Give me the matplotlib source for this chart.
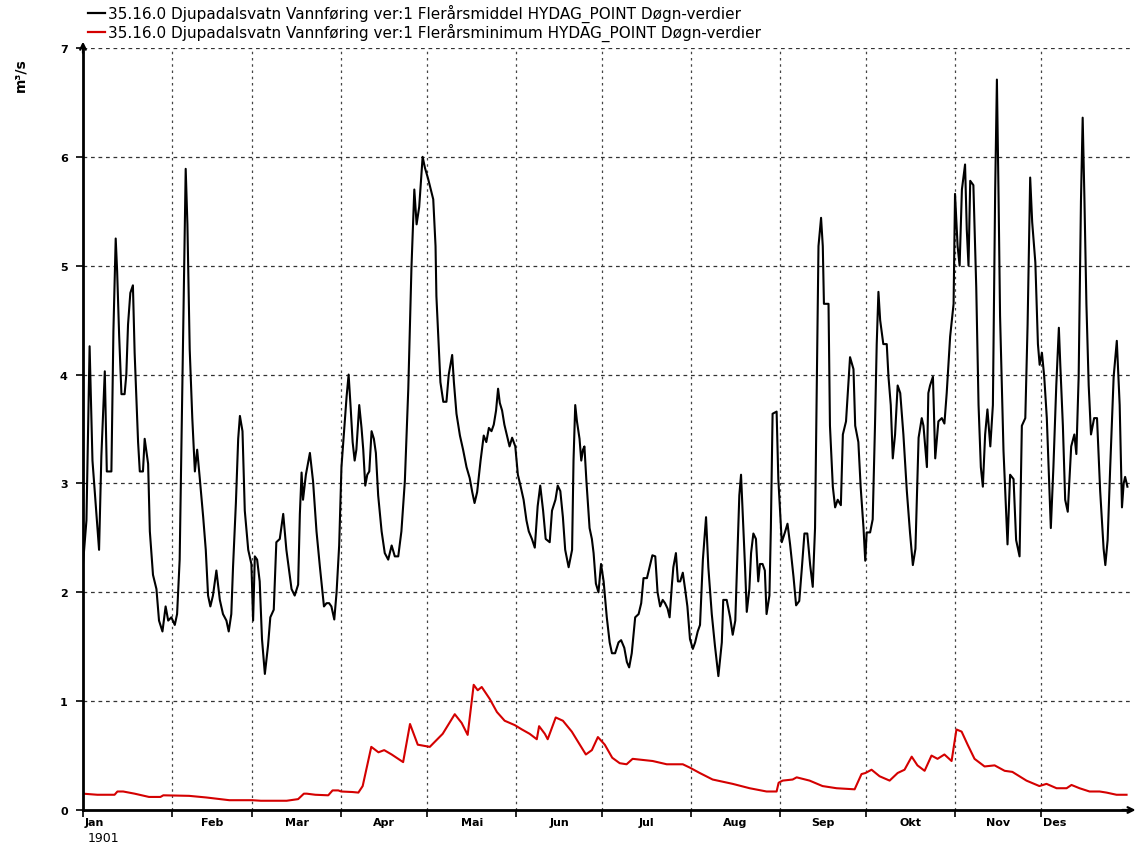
import matplotlib
matplotlib.use("Agg")
import matplotlib.pyplot as plt
from matplotlib.lines import Line2D

# Flerårsmiddel (daglig), dag i året -> m3/s
mean_days = [
    0, 1.2, 2.3, 3.3, 4.4, 5.6, 6.4, 7.6, 8.3, 9.9, 10.6, 11.4, 11.9, 12.6, 13.4, 14.5,
    15.1, 15.7, 16.5, 17.4, 18.0, 19.2, 19.8, 20.9, 21.5, 22.7, 23.3, 24.4, 25.6, 26.5,
    27.7, 28.8, 29.7, 30.8, 32.0, 32.8, 33.7, 34.3, 35.1, 35.8, 36.4, 37.2, 38.1, 39.0,
    39.8, 40.7, 41.9, 42.8, 43.6, 44.4, 45.3, 46.5, 47.7, 48.8, 50.0, 50.8, 51.7, 52.3,
    53.3, 54.1, 54.7, 55.6, 56.4, 57.6, 58.7, 59.3, 59.9, 60.7, 61.6, 62.4, 63.4, 64.5,
    65.3, 66.5, 67.4, 68.6, 69.8, 70.9, 72.7, 73.8, 75.0, 75.6, 76.2, 76.7, 77.7, 79.1,
    80.2, 81.4, 82.6, 84.0, 84.9, 85.8, 86.6, 87.6, 88.4, 89.3, 90.1, 90.9, 91.9, 92.6,
    93.3, 94.0, 94.7, 95.3, 96.3, 97.1, 97.7, 98.4, 99.1, 99.8, 100.6, 101.4, 102.1,
    102.9, 104.1, 105.2, 106.4, 107.6, 108.7, 109.9, 111.0, 112.2, 113.4, 114.5, 115.5,
    116.3, 117.2, 118.4, 119.2, 120.3, 122.1, 122.9, 123.2, 124.1, 124.6, 125.6, 126.7,
    127.5, 128.7, 129.3, 130.2, 131.4, 132.5, 133.7, 134.8, 135.7, 136.5, 137.4, 138.6,
    139.7, 140.6, 141.5, 142.4, 143.2, 144.0, 144.7, 145.3, 146.1, 146.9, 147.8, 148.7,
    149.6, 150.7, 151.6, 152.5, 153.6, 154.6, 155.4, 156.5, 157.5, 158.5, 159.4, 160.4,
    161.3, 162.7, 163.5, 164.7, 165.5, 166.4, 167.3, 168.1, 169.3, 170.5, 171.0, 171.6,
    172.2, 173.1, 173.7, 174.3, 174.8, 175.5, 176.6, 177.4, 178.0, 178.8, 179.7, 180.6,
    181.5, 182.6, 183.6, 184.4, 185.5, 186.7, 187.6, 188.7, 189.6, 190.4, 191.3, 192.5,
    193.7, 194.6, 195.4, 196.6, 197.5, 198.5, 199.5, 200.3, 201.2, 202.1, 202.9, 203.8,
    204.5, 205.3, 205.8, 206.7, 207.4, 208.2, 209.1, 209.9, 210.7, 211.6, 212.6, 213.4,
    214.3, 215.1, 216.1, 217.2, 218.0, 219.2, 220.3, 221.5, 222.7, 223.2, 224.4, 225.6,
    226.5, 227.4, 228.2, 228.8, 229.4, 230.0, 230.8, 231.4, 232.3, 232.9, 233.7, 234.6,
    235.4, 236.0, 236.9, 237.7, 238.3, 239.3, 239.8, 240.4, 241.8, 242.4, 243.6, 244.7,
    245.6, 246.5, 247.7, 248.6, 249.7, 250.6, 251.5, 252.5, 253.5, 254.4, 255.2, 255.8,
    256.4, 257.3, 257.9, 258.3, 259.0, 259.9, 260.4, 261.4, 262.2, 263.1, 264.2, 264.9,
    266.0, 266.8, 267.4, 268.6, 269.2, 270.3, 271.1, 272.1, 272.7, 273.2, 274.4, 275.3,
    276.1, 276.7, 277.3, 277.9, 279.0, 280.2, 280.8, 281.6, 282.3, 283.1, 284.0, 284.9,
    286.0, 287.2, 288.3, 289.3, 290.2, 291.3, 292.4, 293.0, 294.2, 294.7, 295.3, 296.3,
    297.1, 298.2, 299.4, 300.3, 301.1, 302.3, 303.5, 304.0, 304.9, 305.6, 306.4, 307.5,
    308.1, 308.7, 309.3, 310.4, 311.4, 312.2, 313.0, 313.7, 314.5, 315.3, 316.3, 317.2,
    318.0, 318.6, 319.2, 319.7, 320.9, 322.3, 323.2, 324.4, 325.3, 326.5, 327.3, 328.5,
    329.3, 330.2, 330.9, 332.0, 332.9, 333.5, 334.3, 335.1, 336.0, 337.4, 338.3, 339.3,
    340.2, 340.7, 341.6, 342.4, 343.3, 344.5, 345.6, 346.3, 347.1, 347.9, 348.5, 349.1,
    349.8, 350.6, 351.4, 352.5, 353.5, 354.6, 355.8, 356.4, 357.2, 358.1, 359.3, 360.4,
    361.4, 362.2, 362.8, 363.3, 364.1,
]
mean_vals = [
    2.26, 2.66, 4.26, 3.21, 2.82, 2.39, 3.25, 4.03, 3.11, 3.11, 4.40, 5.25, 4.95, 4.36, 3.82, 3.82,
    4.00, 4.46, 4.75, 4.82, 4.20, 3.38, 3.11, 3.11, 3.41, 3.18, 2.56, 2.16, 2.03, 1.74,
    1.64, 1.87, 1.74, 1.77, 1.70, 1.80, 2.30, 3.31, 4.62, 5.89, 5.38, 4.23, 3.60, 3.11,
    3.31, 3.05, 2.69, 2.39, 1.97, 1.87, 1.97, 2.20, 1.93, 1.80, 1.74, 1.64, 1.80, 2.23,
    2.82, 3.41, 3.62, 3.48, 2.75, 2.39, 2.26, 1.74, 2.33, 2.30, 2.10, 1.57, 1.25, 1.51,
    1.77, 1.84, 2.46, 2.49, 2.72, 2.39, 2.03, 1.97, 2.07, 2.72, 3.10, 2.85, 3.08, 3.28,
    3.02, 2.56, 2.23, 1.87, 1.90, 1.90, 1.87, 1.75, 2.00, 2.43, 3.15, 3.44, 3.80, 4.00,
    3.70, 3.38, 3.21, 3.31, 3.72, 3.51, 3.31, 2.98, 3.08, 3.11, 3.48, 3.41, 3.28,
    2.89, 2.56, 2.36, 2.30, 2.43, 2.33, 2.33, 2.56, 3.02, 3.87, 4.98, 5.70,
    5.38, 5.54, 6.00, 5.90, 5.80, 5.61, 5.18, 4.72, 4.20, 3.93, 3.75, 3.75,
    4.00, 4.18, 3.93, 3.64, 3.44, 3.31, 3.15, 3.05, 2.92, 2.82, 2.92, 3.21,
    3.44, 3.38, 3.51, 3.48, 3.54, 3.67, 3.87, 3.74, 3.67, 3.54, 3.44, 3.34,
    3.42, 3.34, 3.08, 2.98, 2.85, 2.66, 2.56, 2.49, 2.41, 2.79, 2.98, 2.75,
    2.49, 2.46, 2.75, 2.85, 2.98, 2.93, 2.69, 2.39, 2.23, 2.39, 3.21, 3.72,
    3.57, 3.41, 3.21, 3.31, 3.34, 3.02, 2.59, 2.49, 2.36, 2.08, 2.00, 2.26,
    2.10, 1.77, 1.54, 1.44, 1.44, 1.54, 1.56, 1.49, 1.36, 1.31, 1.44, 1.77,
    1.80, 1.90, 2.13, 2.13, 2.23, 2.34, 2.33, 2.00, 1.87, 1.93, 1.90, 1.85,
    1.77, 2.07, 2.23, 2.36, 2.10, 2.10, 2.18, 2.03, 1.87, 1.57, 1.48, 1.54,
    1.64, 1.70, 2.30, 2.69, 2.23, 1.80, 1.51, 1.23, 1.54, 1.93, 1.93, 1.77,
    1.61, 1.74, 2.39, 2.89, 3.08, 2.72, 2.23, 1.82, 2.03, 2.36, 2.54, 2.49,
    2.10, 2.26, 2.26, 2.20, 1.80, 1.97, 2.59, 3.64, 3.66, 3.04, 2.46, 2.55,
    2.63, 2.44, 2.14, 1.88, 1.92, 2.22, 2.54, 2.54, 2.25, 2.05, 2.59, 3.90,
    5.18, 5.44, 5.18, 4.65, 4.65, 4.65, 3.53, 2.97, 2.78, 2.85, 2.80, 3.45,
    3.57, 3.90, 4.16, 4.05, 3.53, 3.38, 2.97, 2.59, 2.29, 2.55, 2.55, 2.67,
    3.53, 4.28, 4.76, 4.50, 4.28, 4.28, 3.98, 3.72, 3.23, 3.45, 3.90, 3.83,
    3.45, 2.93, 2.55, 2.25, 2.40, 3.42, 3.60, 3.53, 3.15, 3.83, 3.90, 3.98,
    3.23, 3.57, 3.60, 3.55, 3.83, 4.35, 4.65, 5.66, 5.18, 5.00, 5.70, 5.93,
    5.33, 5.00, 5.78, 5.74, 4.80, 3.72, 3.15, 2.97, 3.45, 3.68, 3.34, 3.72,
    5.70, 6.71, 5.59, 4.54, 3.30, 2.44, 3.08, 3.04, 2.48, 2.33, 3.53, 3.60,
    4.46, 5.81, 5.40, 5.03, 4.28, 4.09, 4.20, 3.98, 3.60, 2.59, 3.15, 3.90,
    4.43, 4.09, 3.53, 2.85, 2.74, 3.34, 3.45, 3.27, 3.98, 5.59, 6.36, 5.63,
    4.65, 3.90, 3.45, 3.60, 3.60, 2.93, 2.40, 2.25, 2.48, 3.15, 3.98, 4.31,
    3.72, 2.78, 3.00, 3.06, 2.97,
]

# Flerårsminimum (daglig)
min_days = [
    0, 5, 11, 12, 14, 18, 23, 27, 28, 37, 43, 51, 59, 62, 71, 75, 77, 78, 81, 85.5,
    87, 89, 90, 94, 96, 97.5, 99, 100.5, 103, 105, 107.6, 111.6, 114, 116.7, 120.9,
    125.4, 129.6, 132, 134.1, 136.2, 137.6, 139, 141.8, 144.3, 147, 150.5, 153, 155.7,
    158.2, 159, 161, 162, 164.8, 167.3, 170.4, 173.2, 175.3, 177.4, 179.5, 181.9,
    184.5, 187.1, 189.5, 191.6, 198.6, 203.5, 209.1, 211.5, 215, 219.5, 226.5, 232.4,
    238.3, 241.8, 242.5, 243.9, 247.4, 248.8, 253.3, 257.8, 262.7, 269, 271.4, 272.8,
    274.9, 277.7, 281.2, 284, 286.4, 288.9, 290.9, 293.4, 295.8, 297.9, 300.3, 302.8,
    304.5, 306.3, 308.4, 310.8, 314.3, 317.8, 321.3, 324, 328.9, 333.4, 335.9, 339.4,
    342.9, 344.6, 347.4, 350.9, 354.4, 356.8, 360.3, 363.8,
]
min_vals = [
    0.15, 0.14, 0.14, 0.17, 0.17, 0.15, 0.12, 0.12, 0.135, 0.13, 0.115, 0.09, 0.09, 0.085,
    0.085, 0.10, 0.15, 0.15, 0.14, 0.135,
    0.18, 0.18, 0.17, 0.165, 0.16, 0.22, 0.40, 0.58, 0.53, 0.55, 0.51, 0.44, 0.79, 0.60, 0.58,
    0.70, 0.88, 0.80, 0.69, 1.15, 1.10, 1.13, 1.02, 0.90, 0.82, 0.78, 0.74, 0.70,
    0.65, 0.77, 0.70, 0.65, 0.85, 0.82, 0.72, 0.60, 0.51, 0.55, 0.67, 0.60,
    0.48, 0.43, 0.42, 0.47, 0.45, 0.42, 0.42, 0.39, 0.34, 0.28, 0.24, 0.20,
    0.17, 0.17, 0.25, 0.27, 0.28, 0.30, 0.27, 0.22, 0.20, 0.19, 0.33, 0.34,
    0.37, 0.31, 0.27, 0.34, 0.37, 0.49, 0.41, 0.36, 0.50, 0.47, 0.51, 0.45,
    0.74, 0.72, 0.60, 0.47, 0.40, 0.41, 0.36, 0.35, 0.27, 0.22, 0.24, 0.20,
    0.20, 0.23, 0.20, 0.17, 0.17, 0.16, 0.14, 0.14,
]

month_starts = [0, 31, 59, 90, 120, 151, 181, 212, 243, 273, 304, 334, 365]
month_names = ["Jan", "Feb", "Mar", "Apr", "Mai", "Jun", "Jul", "Aug", "Sep", "Okt", "Nov", "Des"]
y_ticks = [0, 1, 2, 3, 4, 5, 6, 7]
year_label = "1901"

legend_labels = [
    "35.16.0 Djupadalsvatn Vannføring ver:1 Flerårsmiddel HYDAG_POINT Døgn-verdier",
    "35.16.0 Djupadalsvatn Vannføring ver:1 Flerårsminimum HYDAG_POINT Døgn-verdier",
]
line_colors = ["black", "#d40000"]

W, H = 1139, 845
fig = plt.figure(figsize=(W / 100, H / 100), dpi=100)
ax = fig.add_axes([83 / W, 1 - 811 / H, (1130 - 83) / W, (811 - 49) / H])

# rutenett
for y in y_ticks[1:]:
    ax.axhline(y, color="#333333", lw=0.9, ls=(0, (3, 3)), zorder=0)
for d in month_starts[1:-1]:
    ax.axvline(d, color="#444444", lw=0.9, ls=(0, (2, 3)), zorder=0)

ax.plot(mean_days, mean_vals, color=line_colors[0], lw=1.5)
ax.plot(min_days, min_vals, color=line_colors[1], lw=1.5)

ax.set_xlim(0, 365)
ax.set_ylim(0, 7)
ax.set_yticks(y_ticks)
ax.set_yticklabels([str(v) for v in y_ticks], fontsize=8, fontweight="bold")
ax.set_xticks(month_starts[:-1])
ax.set_xticklabels([])
ax.tick_params(axis="both", direction="out", length=5, width=1.2, color="black", pad=6)

for side in ["top", "right"]:
    ax.spines[side].set_visible(False)
for side in ["left", "bottom"]:
    ax.spines[side].set_linewidth(2)

# pil på aksene
ax.annotate("", xy=(0, 1.012), xytext=(0, 0.99), xycoords="axes fraction",
            arrowprops=dict(arrowstyle="->", lw=1.6, color="black"), annotation_clip=False)
ax.annotate("", xy=(1.008, 0), xytext=(0.99, 0), xycoords="axes fraction",
            arrowprops=dict(arrowstyle="->", lw=1.6, color="black"), annotation_clip=False)

# månedsnavn
trans = ax.get_xaxis_transform()
for i, name in enumerate(month_names):
    if name in ("Jan", "Des"):
        ax.text(month_starts[i] + 0.7, -0.016, name, transform=trans, ha="left",
                va="center", fontsize=8, fontweight="bold")
    else:
        mid = (month_starts[i] + month_starts[i + 1]) / 2
        ax.text(mid, -0.016, name, transform=trans, ha="center", va="center",
                fontsize=8, fontweight="bold")
ax.text(1.7, -0.036, year_label, transform=trans, ha="left", va="center", fontsize=9)

fig.text(20 / W, 1 - 75 / H, "m³/s", rotation=90, ha="center", va="center",
         fontsize=10, fontweight="bold")

# tegnforklaring øverst
for k, (label, c) in enumerate(zip(legend_labels, line_colors)):
    yy = 1 - (14 + 19 * k) / H
    fig.add_artist(Line2D([88 / W, 105 / W], [yy, yy], color=c, lw=1.6))
    fig.text(108 / W, yy, label, ha="left", va="center", fontsize=11)

fig.savefig("out.png", dpi=100)
plt.close(fig)
